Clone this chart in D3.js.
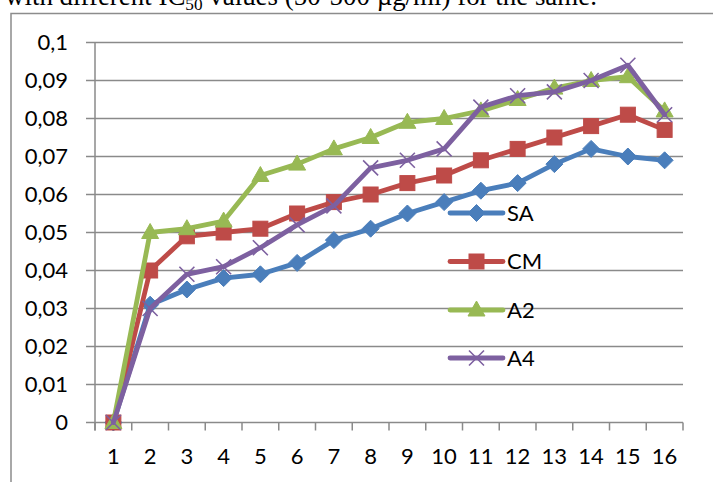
<!DOCTYPE html>
<html>
<head>
<meta charset="utf-8">
<script src="https://cdn.jsdelivr.net/npm/d3@7"></script>
<style>
  html, body { margin: 0; padding: 0; background: #fff; }
  svg { display: block; }
</style>
</head>
<body>
<svg id="chart" width="713" height="482"></svg>
<script>
// Samples 1..16 on the x axis
const categories = ["1","2","3","4","5","6","7","8","9","10","11","12","13","14","15","16"];

// Series values
const seriesNames = ["SA", "CM", "A2", "A4"];
const valuesSA = [0, 0.031, 0.035, 0.038, 0.039, 0.042, 0.048, 0.051, 0.055, 0.058, 0.061, 0.063, 0.068, 0.072, 0.070, 0.069];
const valuesCM = [0, 0.040, 0.049, 0.050, 0.051, 0.055, 0.058, 0.060, 0.063, 0.065, 0.069, 0.072, 0.075, 0.078, 0.081, 0.077];
const valuesA2 = [0, 0.050, 0.051, 0.053, 0.065, 0.068, 0.072, 0.075, 0.079, 0.080, 0.082, 0.085, 0.088, 0.090, 0.091, 0.082];
const valuesA4 = [0, 0.030, 0.039, 0.041, 0.046, 0.052, 0.057, 0.067, 0.069, 0.072, 0.083, 0.086, 0.087, 0.090, 0.094, 0.081];

// Y axis ticks and their labels (comma decimal separator)
const yTicks = [0, 0.01, 0.02, 0.03, 0.04, 0.05, 0.06, 0.07, 0.08, 0.09, 0.1];
const yTickLabels = ["0", "0,01", "0,02", "0,03", "0,04", "0,05", "0,06", "0,07", "0,08", "0,09", "0,1"];

const colors = { SA: "#4A7EBB", CM: "#BE4B48", A2: "#98B954", A4: "#7D60A0" };
const markers = { SA: "diamond", CM: "square", A2: "triangle", A4: "cross" };

const series = [
  { name: "SA", values: valuesSA },
  { name: "CM", values: valuesCM },
  { name: "A2", values: valuesA2 },
  { name: "A4", values: valuesA4 }
];

const svg = d3.select("#chart");
const FONT = "Lato, 'Open Sans', sans-serif";
const gridColor = "#8a8a8a";

// Caption line above the chart frame, sized to span its line width
const caption = svg.append("text")
  .attr("x", 5).attr("y", 5)
  .attr("font-family", "'Liberation Serif', 'Times New Roman', serif")
  .attr("font-size", 22)
  .attr("fill", "#000");
caption.append("tspan").text("with different IC");
const sub = caption.append("tspan").attr("font-size", 14).attr("dy", 4).text("50");
caption.append("tspan").attr("dy", -4).text(" values (50-500 µg/ml) for the same.");
const capW = caption.node().getComputedTextLength();
const capSize = 22 * 592 / capW;
caption.attr("font-size", capSize);
sub.attr("font-size", capSize * 0.64).attr("dy", capSize * 0.18);
caption.select("tspan:last-child").attr("dy", -capSize * 0.18);

// Chart frame
svg.append("path")
  .attr("d", "M11,490 L11,13.5 L720,13.5")
  .attr("fill", "none").attr("stroke", "#8c8c8c").attr("stroke-width", 1.5);

const plot = { left: 95, right: 683, top: 42.5, bottom: 422.5 };

const x = d3.scaleBand().domain(categories).range([plot.left, plot.right]).paddingInner(0).paddingOuter(0);
const y = d3.scaleLinear().domain([0, 0.1]).range([plot.bottom, plot.top]);
const cx = c => x(c) + x.bandwidth() / 2;

// Horizontal gridlines (extend left as tick marks)
svg.append("g").selectAll("line").data(yTicks).join("line")
  .attr("x1", plot.left - 9).attr("x2", plot.right)
  .attr("y1", d => y(d)).attr("y2", d => y(d))
  .attr("stroke", gridColor).attr("stroke-width", 1.5);

// Y tick labels
svg.append("g").selectAll("text").data(yTicks).join("text")
  .attr("x", 68).attr("y", d => y(d))
  .attr("dy", "0.35em")
  .attr("text-anchor", "end")
  .attr("font-family", FONT).attr("font-size", 22).attr("fill", "#000")
  .text((d, i) => yTickLabels[i]);

// Vertical axis line
svg.append("line")
  .attr("x1", plot.left).attr("x2", plot.left)
  .attr("y1", plot.top).attr("y2", plot.bottom + 8)
  .attr("stroke", gridColor).attr("stroke-width", 1.5);

// X tick marks between categories
const boundaries = categories.map(c => x(c)).concat([plot.right]);
svg.append("g").selectAll("line").data(boundaries).join("line")
  .attr("x1", d => d).attr("x2", d => d)
  .attr("y1", plot.bottom).attr("y2", plot.bottom + 8)
  .attr("stroke", gridColor).attr("stroke-width", 1.5);

// X labels via the band axis (no tick lines)
const xAxis = svg.append("g")
  .attr("transform", `translate(0,${plot.bottom})`)
  .call(d3.axisBottom(x).tickSize(0).tickPadding(26));
xAxis.select(".domain").remove();
xAxis.selectAll("text")
  .attr("font-family", FONT).attr("font-size", 22).attr("fill", "#000");

// Marker drawing
function drawMarker(g, type, color, px, py) {
  if (type === "diamond") {
    const r = 8.5;
    g.append("path")
      .attr("d", `M${px},${py - r} L${px + r},${py} L${px},${py + r} L${px - r},${py} Z`)
      .attr("fill", color).attr("stroke", color).attr("stroke-width", 1);
  } else if (type === "square") {
    const s = 7.5;
    g.append("rect")
      .attr("x", px - s).attr("y", py - s).attr("width", 2 * s).attr("height", 2 * s)
      .attr("fill", color).attr("stroke", color).attr("stroke-width", 1);
  } else if (type === "triangle") {
    const w = 8.5, h = 15;
    g.append("path")
      .attr("d", `M${px},${py - h * 0.6} L${px + w},${py + h * 0.4} L${px - w},${py + h * 0.4} Z`)
      .attr("fill", color).attr("stroke", color).attr("stroke-width", 1);
  } else {
    const r = 7.5;
    g.append("path")
      .attr("d", `M${px - r},${py - r} L${px + r},${py + r} M${px - r},${py + r} L${px + r},${py - r}`)
      .attr("fill", "none").attr("stroke", color).attr("stroke-width", 1.6);
  }
}

const line = d3.line().x((d, i) => cx(categories[i])).y(d => y(d));

series.forEach(s => {
  const g = svg.append("g");
  g.append("path")
    .attr("d", line(s.values))
    .attr("fill", "none")
    .attr("stroke", colors[s.name])
    .attr("stroke-width", 4.8)
    .attr("stroke-linejoin", "round")
    .attr("stroke-linecap", "round");
  s.values.forEach((v, i) => drawMarker(g, markers[s.name], colors[s.name], cx(categories[i]), y(v)));
});

// Legend
const legendY = [213, 261.5, 310, 358];
seriesNames.forEach((name, i) => {
  const g = svg.append("g");
  const ly = legendY[i];
  g.append("line")
    .attr("x1", 450).attr("x2", 503).attr("y1", ly).attr("y2", ly)
    .attr("stroke", colors[name]).attr("stroke-width", 4.8).attr("stroke-linecap", "round");
  drawMarker(g, markers[name], colors[name], 476.5, ly);
  g.append("text")
    .attr("x", 507).attr("y", ly).attr("dy", "0.35em")
    .attr("font-family", FONT).attr("font-size", 22).attr("fill", "#000")
    .text(name);
});
</script>
</body>
</html>
